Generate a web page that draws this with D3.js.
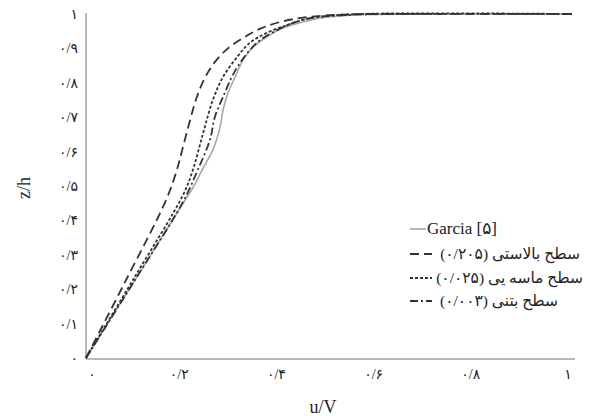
<!DOCTYPE html>
<html>
<head>
<meta charset="utf-8">
<script src="https://cdn.jsdelivr.net/npm/d3@7"></script>
<style>
  body { margin: 0; background: #fff; }
  text { font-family: "Liberation Serif", "DejaVu Serif", "DejaVu Sans", serif; fill: #222; }
</style>
</head>
<body>
<div id="chart"></div>
<script>
// tick values and labels (Persian digits)
var xTicks = [0, 0.2, 0.4, 0.6, 0.8, 1];
var xTickLabels = ["۰", "۰/۲", "۰/۴", "۰/۶", "۰/۸", "۱"];
var yTicks = [0, 0.1, 0.2, 0.3, 0.4, 0.5, 0.6, 0.7, 0.8, 0.9, 1];
var yTickLabels = ["۰", "۰/۱", "۰/۲", "۰/۳", "۰/۴", "۰/۵", "۰/۶", "۰/۷", "۰/۸", "۰/۹", "۱"];

// Garcia [5]
var garciaU = [0, 0.1, 0.2, 0.222, 0.239, 0.261, 0.276, 0.282, 0.292, 0.307, 0.323, 0.344, 0.372, 0.405, 0.447, 0.481, 0.55, 0.65, 1];
var garciaZ = [0, 0.225, 0.45, 0.5, 0.547, 0.605, 0.672, 0.721, 0.77, 0.817, 0.866, 0.904, 0.933, 0.959, 0.977, 0.988, 0.997, 1, 1];
// ballast surface (0.205)
var ballastU = [0, 0.08, 0.165, 0.187, 0.198, 0.212, 0.226, 0.243, 0.265, 0.292, 0.325, 0.36, 0.4, 0.45, 0.52, 0.6, 1];
var ballastZ = [0, 0.22, 0.46, 0.547, 0.605, 0.68, 0.75, 0.81, 0.86, 0.9, 0.932, 0.958, 0.977, 0.99, 0.998, 1, 1];
// sand surface (0.025)
var sandU = [0, 0.1, 0.2, 0.22, 0.241, 0.261, 0.282, 0.311, 0.337, 0.372, 0.414, 0.447, 0.475, 0.564, 1];
var sandZ = [0, 0.235, 0.475, 0.547, 0.654, 0.75, 0.817, 0.875, 0.916, 0.945, 0.968, 0.983, 0.991, 1, 1];
// concrete surface (0.003)
var concreteU = [0, 0.1, 0.2, 0.23, 0.255, 0.265, 0.282, 0.3, 0.317, 0.337, 0.358, 0.393, 0.426, 0.461, 0.55, 0.65, 1];
var concreteZ = [0, 0.225, 0.455, 0.547, 0.634, 0.7, 0.759, 0.817, 0.858, 0.895, 0.924, 0.953, 0.974, 0.988, 0.998, 1, 1];

var legendNames = ["Garcia [۵]", "سطح بالاستی (۰/۲۰۵)", "سطح ماسه یی (۰/۰۲۵)", "سطح بتنی (۰/۰۰۳)"];

var width = 614, height = 416;

var x = d3.scaleLinear().domain([0, 1]).range([86, 572]);
var y = d3.scaleLinear().domain([0, 1]).range([358, 14]);

var svg = d3.select("#chart").append("svg")
    .attr("width", width)
    .attr("height", height);

// axes lines
svg.append("line")
    .attr("x1", x(0)).attr("x2", x(0))
    .attr("y1", 13).attr("y2", y(0) + 1)
    .attr("stroke", "#a3a3a3").attr("stroke-width", 1.6);
svg.append("line")
    .attr("x1", x(0)).attr("x2", 575)
    .attr("y1", y(0) + 1).attr("y2", y(0) + 1)
    .attr("stroke", "#a3a3a3").attr("stroke-width", 1.6);

// tick labels
svg.selectAll(".xlab")
    .data(xTicks)
  .enter().append("text")
    .attr("class", "xlab")
    .attr("x", function(d) { return x(d) + (d == 0 ? 6 : -4); })
    .attr("y", 379)
    .attr("text-anchor", "middle")
    .attr("font-size", 14)
    .text(function(d, i) { return xTickLabels[i]; });

svg.selectAll(".ylab")
    .data(yTicks)
  .enter().append("text")
    .attr("class", "ylab")
    .attr("x", 78)
    .attr("y", function(d) { return y(d) + 5; })
    .attr("text-anchor", "end")
    .attr("font-size", 14)
    .text(function(d, i) { return yTickLabels[i]; });

// axis titles
svg.append("text")
    .attr("x", 323).attr("y", 413)
    .attr("text-anchor", "middle")
    .attr("font-size", 18)
    .text("u/V");

svg.append("text")
    .attr("transform", "translate(30,188) rotate(-90)")
    .attr("text-anchor", "middle")
    .attr("font-size", 18)
    .text("z/h");

var line = d3.line()
    .x(function(d) { return x(d[0]); })
    .y(function(d) { return y(d[1]); })
    .curve(d3.curveCatmullRom.alpha(0.5));

var series = [
  {u: garciaU, z: garciaZ, color: "#a8a8a8", w: 1.6, dash: null},
  {u: ballastU, z: ballastZ, color: "#333", w: 1.8, dash: "9,5"},
  {u: sandU, z: sandZ, color: "#333", w: 1.8, dash: "3,2"},
  {u: concreteU, z: concreteZ, color: "#333", w: 1.8, dash: "8,3,2,3"}
];

svg.selectAll(".series")
    .data(series)
  .enter().append("path")
    .attr("class", "series")
    .attr("fill", "none")
    .attr("stroke", function(d) { return d.color; })
    .attr("stroke-width", function(d) { return d.w; })
    .attr("stroke-dasharray", function(d) { return d.dash; })
    .attr("d", function(d) { return line(d.u.map(function(v, i) { return [v, d.z[i]]; })); });

// legend
var legY = [229, 254, 278, 301];
var legRight = [0, 580, 583, 558];
var leg = svg.selectAll(".leg")
    .data(series)
  .enter().append("g")
    .attr("class", "leg");

leg.append("line")
    .attr("x1", 410).attr("x2", function(d, i) { return i == 0 ? 426 : 432; })
    .attr("y1", function(d, i) { return legY[i]; })
    .attr("y2", function(d, i) { return legY[i]; })
    .attr("stroke", function(d) { return d.color; })
    .attr("stroke-width", function(d) { return d.w; })
    .attr("stroke-dasharray", function(d) { return d.dash; });

// RLM keeps the closing paren inside the right-to-left run
leg.append("text")
    .attr("x", function(d, i) { return i == 0 ? 427 : legRight[i]; })
    .attr("y", function(d, i) { return legY[i] + 5; })
    .attr("text-anchor", function(d, i) { return i == 0 ? "start" : "end"; })
    .attr("font-size", function(d, i) { return i == 0 ? 17 : 15.5; })
    .text(function(d, i) { return i == 0 ? legendNames[i] : "\u200F" + legendNames[i] + "\u200F"; });
</script>
</body>
</html>
